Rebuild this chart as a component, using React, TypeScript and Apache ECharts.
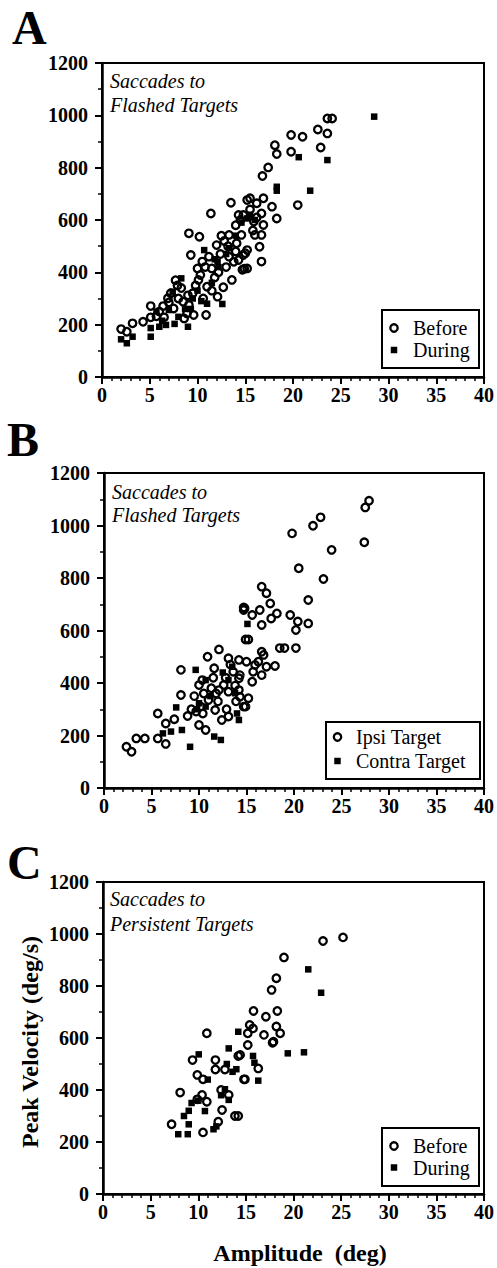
import React, { useEffect, useRef } from "react";
import * as echarts from "echarts";

// ---------- data (amplitude deg, peak velocity deg/s) ----------
const aBefore: [number, number][] = [
  [2.0,183],[2.6,173],[3.2,205],[4.3,211],[5.1,271],[5.1,228],[5.7,232],[6.0,250],[6.4,271],[6.5,228],
  [6.9,301],[7.0,285],[7.2,320],[7.5,262],[7.7,370],[7.9,350],[8.0,300],[8.3,340],[8.5,288],[8.6,224],
  [8.9,243],[9.0,312],[9.1,275],[9.1,549],[9.3,466],[9.5,320],[9.6,237],[9.8,350],[10.0,415],[10.1,371],
  [10.2,536],[10.3,390],[10.5,441],[10.6,300],[10.8,420],[10.9,237],[11.0,345],[11.2,460],[11.4,625],[11.5,415],
  [11.5,330],[11.8,380],[12.0,504],[12.1,307],[12.2,400],[12.4,470],[12.5,540],[12.7,343],[12.8,520],[13.0,420],
  [13.2,500],[13.3,543],[13.3,460],[13.5,666],[13.6,371],[13.8,440],[14.0,580],[14.0,480],[14.1,511],[14.3,619],
  [14.3,447],[14.5,600],[14.6,543],[14.7,410],[14.8,466],[14.8,619],[14.9,414],[15.0,473],[15.2,485],[15.2,415],
  [15.2,676],[15.5,683],[15.5,640],[15.8,560],[15.9,594],[16.0,543],[16.2,664],[16.2,610],[16.5,498],[16.7,625],
  [16.7,543],[16.7,441],[16.8,768],[16.9,683],[16.9,581],[17.4,801],[17.8,651],[18.1,886],[18.3,852],[18.3,606],
  [19.8,925],[19.8,861],[20.5,657],[21.0,918],[22.6,946],[22.9,877],[23.6,931],[23.6,988],[24.1,988]
];
const aDuring: [number, number][] = [
  [2.0,144],[2.6,129],[3.2,154],[5.1,154],[5.1,187],[5.7,250],[6.0,192],[6.3,215],[6.7,199],[7.0,256],
  [7.4,326],[7.6,203],[8.0,230],[8.3,377],[8.7,260],[9.0,192],[9.3,260],[9.5,300],[10.0,330],[10.4,290],
  [10.7,485],[11.0,280],[11.5,360],[11.8,450],[12.1,441],[12.2,420],[12.6,279],[13.0,470],[13.3,492],[14.0,540],
  [14.6,590],[15.2,606],[15.5,620],[16.0,600],[18.3,712],[18.3,727],[20.6,840],[21.8,712],[23.6,829],[28.5,995]
];
const bIpsi: [number, number][] = [
  [2.36,157],[2.9,138],[3.4,189],[4.3,189],[5.66,189],[5.66,284],[6.5,168],[6.5,246],[7.4,262],[8.1,354],
  [8.1,450],[8.8,274],[9.2,300],[9.5,350],[9.7,291],[10.0,240],[10.0,392],[10.2,310],[10.35,411],[10.4,284],
  [10.5,360],[10.7,221],[10.9,500],[11.0,335],[11.3,380],[11.5,420],[11.6,456],[11.7,297],[11.8,360],[12.0,330],
  [12.1,528],[12.1,373],[12.4,259],[12.6,392],[12.8,420],[12.9,300],[13.1,272],[13.1,367],[13.1,494],[13.3,470],
  [13.6,443],[13.8,390],[13.9,330],[14.2,488],[14.2,418],[14.2,373],[14.3,348],[14.3,430],[14.7,310],[14.7,678],
  [14.7,688],[14.8,685],[14.9,566],[14.9,310],[15.0,481],[15.2,566],[15.2,342],[15.6,659],[15.6,405],[15.7,443],
  [15.9,469],[16.25,481],[16.4,678],[16.6,621],[16.6,519],[16.6,430],[16.6,767],[16.8,507],[17.1,742],[17.1,462],
  [17.5,703],[17.6,646],[18.0,465],[18.2,665],[18.5,533],[19.0,533],[19.6,659],[19.8,970],[20.2,602],[20.2,533],
  [20.4,634],[20.5,837],[21.5,627],[21.5,716],[22.0,999],[22.8,1031],[23.1,796],[23.96,907],[27.4,936],[27.5,1069],
  [27.9,1094]
];
const bContra: [number, number][] = [
  [6.2,208],[7.05,215],[7.6,307],[8.2,221],[9.06,157],[9.65,450],[9.8,300],[10.0,323],[10.7,310],[10.7,411],
  [11.2,350],[11.6,196],[12.3,183],[12.5,440],[13.1,411],[13.5,462],[13.8,361],[14.0,284],[14.2,259],[15.1,625]
];
const cBefore: [number, number][] = [
  [7.2,268],[8.1,390],[9.4,515],[9.9,458],[9.9,364],[10.4,381],[10.5,441],[10.5,237],[10.9,355],[10.9,618],
  [11.8,515],[11.8,479],[12.1,278],[12.4,400],[12.5,323],[12.8,479],[13.2,381],[13.85,300],[14.2,531],[14.2,300],
  [14.4,535],[14.8,441],[14.9,441],[15.2,573],[15.2,618],[15.4,650],[15.75,637],[15.8,704],[16.3,483],[16.9,612],
  [17.1,682],[17.7,785],[17.8,582],[17.9,586],[18.2,644],[18.2,830],[18.3,704],[18.6,618],[19.0,910],[23.1,973],
  [25.2,987]
];
const cDuring: [number, number][] = [
  [7.9,230],[8.5,300],[8.9,230],[9.0,268],[9.0,320],[9.3,350],[10.0,359],[10.05,537],[10.7,319],[11.0,440],
  [11.6,249],[11.9,260],[12.4,380],[12.8,403],[13.0,500],[13.2,560],[13.2,362],[13.6,470],[14.0,480],[14.2,624],
  [15.75,531],[15.9,505],[16.3,436],[19.4,541],[21.1,545],[21.55,864],[22.9,774]
];

const X_MIN = 0, X_MAX = 40, X_STEP = 5;
const Y_MIN = 0, Y_MAX = 1200, Y_STEP = 200;

const FONT = "'Liberation Serif', 'Times New Roman', serif";

// ---------- layout ----------
const grids = [
  { left: 102, top: 63, width: 387, height: 314 },
  { left: 104, top: 473, width: 385, height: 315 },
  { left: 103, top: 882, width: 386, height: 312 },
];

const panelLetters = [
  { text: "A", x: 12, y: 27 },
  { text: "B", x: 7, y: 439 },
  { text: "C", x: 7, y: 862 },
];

const captions = [
  { lines: ["Saccades to", "Flashed Targets"], x: 110, y: [80.5, 104.5] },
  { lines: ["Saccades to", "Flashed Targets"], x: 112, y: [491.5, 515] },
  { lines: ["Saccades to", "Persistent Targets"], x: 110, y: [898.5, 923.5] },
];

const legends = [
  { box: [382, 310, 97, 58], items: ["Before", "During"], cx: 394, cy: [328, 350], tx: 413 },
  { box: [326, 722, 154, 57], items: ["Ipsi Target", "Contra Target"], cx: 337.5, cy: [737, 761], tx: 356 },
  { box: [382, 1128, 97, 58], items: ["Before", "During"], cx: 394, cy: [1146, 1167.5], tx: 413 },
];

const seriesSets = [
  { names: ["Before", "During"], data: [aBefore, aDuring] },
  { names: ["Ipsi Target", "Contra Target"], data: [bIpsi, bContra] },
  { names: ["Before", "During"], data: [cBefore, cDuring] },
];

export default function App() {
  const ref = useRef<HTMLDivElement>(null);

  useEffect(() => {
    if (!ref.current) return;
    const chart = echarts.init(ref.current, undefined, { renderer: "svg" });

    const labelStyle = {
      show: true, color: "#000", fontFamily: FONT, fontWeight: "bold", fontSize: 20,
      showMinLabel: true, showMaxLabel: true,
      formatter: (v: number) => String(v),
    };

    const xAxes = grids.map((_, i) => ({
      type: "value",
      gridIndex: i,
      min: X_MIN,
      max: X_MAX,
      interval: X_STEP,
      axisLine: { show: true, onZero: false, lineStyle: { color: "#000", width: 2.5 } },
      axisTick: { show: true, inside: false, length: 7, lineStyle: { color: "#000", width: 2 } },
      minorTick: { show: true, splitNumber: 5, length: 4, lineStyle: { color: "#000", width: 1.5 } },
      splitLine: { show: false },
      minorSplitLine: { show: false },
      axisLabel: { ...labelStyle, margin: 8 },
    }));

    const yAxes = grids.map((_, i) => ({
      type: "value",
      gridIndex: i,
      min: Y_MIN,
      max: Y_MAX,
      interval: Y_STEP,
      axisLine: { show: true, onZero: false, lineStyle: { color: "#000", width: 2.5 } },
      axisTick: { show: true, inside: false, length: 7, lineStyle: { color: "#000", width: 2 } },
      minorTick: { show: true, splitNumber: 2, length: 4, lineStyle: { color: "#000", width: 1.5 } },
      splitLine: { show: false },
      minorSplitLine: { show: false },
      axisLabel: { ...labelStyle, margin: 14 },
    }));

    const series: any[] = [];
    seriesSets.forEach((set, i) => {
      series.push({
        type: "scatter",
        name: set.names[0],
        xAxisIndex: i,
        yAxisIndex: i,
        data: set.data[0],
        symbol: "circle",
        symbolSize: 7.5,
        itemStyle: { color: "rgba(255,255,255,0)", borderColor: "#000", borderWidth: 2.3, opacity: 1 },
        z: 3,
      });
      series.push({
        type: "scatter",
        name: set.names[1],
        xAxisIndex: i,
        yAxisIndex: i,
        data: set.data[1],
        symbol: "rect",
        symbolSize: 6.5,
        itemStyle: { color: "#000", opacity: 1 },
        z: 4,
      });
    });

    const graphic: any[] = [];
    panelLetters.forEach((p) => {
      graphic.push({
        type: "text", x: p.x, y: p.y,
        style: { text: p.text, fill: "#000", fontFamily: FONT, fontWeight: "bold", fontSize: 48, align: "left", verticalAlign: "middle" },
      });
    });
    captions.forEach((c) => {
      c.lines.forEach((line, j) => {
        graphic.push({
          type: "text", x: c.x, y: c.y[j], z: 50,
          style: { text: line, fill: "#000", fontFamily: FONT, fontStyle: "italic", fontSize: 20, align: "left", verticalAlign: "middle" },
        });
      });
    });
    legends.forEach((l) => {
      graphic.push({
        type: "rect", z: 60,
        shape: { x: l.box[0], y: l.box[1], width: l.box[2], height: l.box[3] },
        style: { fill: "#fff", stroke: "#000", lineWidth: 2 },
      });
      graphic.push({
        type: "circle", z: 61,
        shape: { cx: l.cx, cy: l.cy[0], r: 3.7 },
        style: { fill: "none", stroke: "#000", lineWidth: 2.3 },
      });
      graphic.push({
        type: "rect", z: 61,
        shape: { x: l.cx - 3.25, y: l.cy[1] - 3.25, width: 6.5, height: 6.5 },
        style: { fill: "#000" },
      });
      l.items.forEach((t, j) => {
        graphic.push({
          type: "text", x: l.tx, y: l.cy[j], z: 61,
          style: { text: t, fill: "#000", fontFamily: FONT, fontSize: 20, align: "left", verticalAlign: "middle" },
        });
      });
    });
    graphic.push({
      type: "text", x: 300, y: 1253,
      style: { text: "Amplitude  (deg)", fill: "#000", fontFamily: FONT, fontWeight: "bold", fontSize: 24, align: "center", verticalAlign: "middle" },
    });
    graphic.push({
      type: "text", x: 30, y: 1042, rotation: Math.PI / 2,
      style: { text: "Peak Velocity (deg/s)", fill: "#000", fontFamily: FONT, fontWeight: "bold", fontSize: 24, align: "center", verticalAlign: "middle" },
    });

    chart.setOption({
      animation: false,
      backgroundColor: "#fff",
      grid: grids.map((g) => ({ ...g, show: true, borderColor: "#000", borderWidth: 2, backgroundColor: "transparent" })),
      xAxis: xAxes,
      yAxis: yAxes,
      series,
      graphic,
    });

    return () => chart.dispose();
  }, []);

  return (
    <div
      ref={ref}
      style={{ position: "absolute", left: 0, top: 0, width: 497, height: 1268, background: "#fff" }}
    />
  );
}
